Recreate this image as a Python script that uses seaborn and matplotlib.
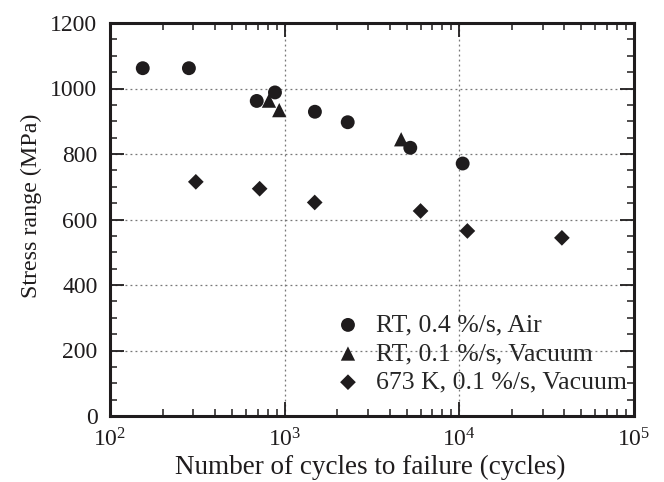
import numpy as np
import pandas as pd
import matplotlib
matplotlib.use("Agg")
import matplotlib.pyplot as plt
import seaborn as sns
from matplotlib.ticker import MultipleLocator, LogLocator

# ---- data ----
air_cycles = [154, 283, 692, 880, 1490, 2296, 5238, 10450]
air_stress = [1062, 1062, 962, 988, 929, 897, 819, 771]

vac_cycles = [813, 931, 4645]
vac_stress = [963, 934, 845]

hot_cycles = [310, 719, 1486, 5998, 11120, 38650]
hot_stress = [715, 694, 652, 626, 565, 544]

series_labels = ["RT, 0.4 %/s, Air", "RT, 0.1 %/s, Vacuum", "673 K, 0.1 %/s, Vacuum"]

df = pd.DataFrame({
    "cycles": air_cycles + vac_cycles + hot_cycles,
    "stress": air_stress + vac_stress + hot_stress,
    "series": [series_labels[0]] * len(air_cycles)
              + [series_labels[1]] * len(vac_cycles)
              + [series_labels[2]] * len(hot_cycles),
})

sns.set_theme(style="ticks")
plt.rcParams["font.family"] = ["Liberation Serif", "DejaVu Serif"]
plt.rcParams["mathtext.fontset"] = "custom"
plt.rcParams["mathtext.rm"] = "Liberation Serif"
plt.rcParams["mathtext.it"] = "Liberation Serif:italic"
plt.rcParams["mathtext.bf"] = "Liberation Serif:bold"

INK = "#1f1c1d"

fig = plt.figure(figsize=(6.64, 4.82), dpi=100)
ax = fig.add_axes([110 / 664, 1 - 416 / 482, 524 / 664, 393 / 482])

markers = {series_labels[0]: "o", series_labels[1]: "^", series_labels[2]: "D"}
sizes_map = {series_labels[0]: 100, series_labels[1]: 106, series_labels[2]: 64}

for lab in series_labels:
    sub = df[df["series"] == lab]
    sns.scatterplot(data=sub, x="cycles", y="stress", marker=markers[lab],
                    s=sizes_map[lab], color=INK, edgecolor="none",
                    linewidth=0, ax=ax, label=lab, zorder=3)

ax.set_xscale("log")
ax.set_xlim(1e2, 1e5)
ax.set_ylim(0, 1200)
ax.yaxis.set_major_locator(MultipleLocator(200))
ax.yaxis.set_minor_locator(MultipleLocator(50))
ax.xaxis.set_major_locator(LogLocator(base=10, numticks=10))
ax.xaxis.set_minor_locator(LogLocator(base=10, subs=np.arange(2, 10), numticks=20))

ax.grid(True, which="major", linestyle=(0, (1.5, 2.5)), color="#777777", linewidth=0.9)
ax.set_axisbelow(True)

for sp in ax.spines.values():
    sp.set_linewidth(2.2)
    sp.set_color(INK)
    sp.set_visible(True)

ax.tick_params(which="both", direction="in", top=True, right=True, colors=INK,
               labelsize=17, labelcolor=INK)
ax.tick_params(which="major", length=10, width=1.3, pad=9)
ax.tick_params(which="minor", length=5, width=1.1)

ax.set_xlabel("Number of cycles to failure (cycles)", fontsize=19.5, color=INK)
ax.set_ylabel("Stress range (MPa)", fontsize=17.3, color=INK)
ax.xaxis.set_label_coords(0.496, -0.10)
ax.yaxis.set_label_coords(-0.13, 0.534)

leg = ax.legend(loc="lower left", bbox_to_anchor=(0.41, 0.03), frameon=False,
                fontsize=18.5, handletextpad=0.59, labelspacing=0.22,
                borderaxespad=0, handlelength=1.0)

fig.savefig("out.png", dpi=100)
